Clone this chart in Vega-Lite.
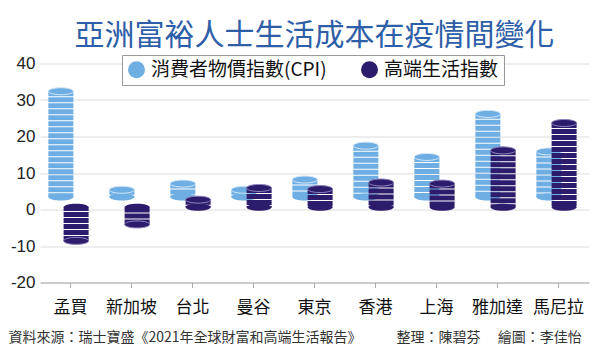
{
  "$schema": "https://vega.github.io/schema/vega-lite/v6.json",
  "width": 549,
  "height": 219,
  "autosize": {"type": "none"},
  "padding": {"left": 40, "top": 63.5, "right": 11, "bottom": 72.5},
  "background": "white",
  "config": {
    "font": "Noto Sans CJK TC",
    "view": {"stroke": null},
    "axisY": {"grid": true, "gridColor": "#dcdcdc", "domain": false, "ticks": false, "labelFontSize": 17, "labelColor": "#222", "labelPadding": 5, "labelFont": "Liberation Sans", "labelOverlap": false}
  },
  "title": {"text": "亞洲富裕人士生活成本在疫情間變化", "fontSize": 30, "color": "#2e5ea8", "fontWeight": "normal", "anchor": "middle", "offset": 4},
  "data": {"values": [
    {"city": "孟買", "series": "消費者物價指數(CPI)", "value": 32.4},
    {"city": "新加坡", "series": "消費者物價指數(CPI)", "value": 5.4},
    {"city": "台北", "series": "消費者物價指數(CPI)", "value": 7.1},
    {"city": "曼谷", "series": "消費者物價指數(CPI)", "value": 5.4},
    {"city": "東京", "series": "消費者物價指數(CPI)", "value": 8.2},
    {"city": "香港", "series": "消費者物價指數(CPI)", "value": 17.5},
    {"city": "上海", "series": "消費者物價指數(CPI)", "value": 14.4},
    {"city": "雅加達", "series": "消費者物價指數(CPI)", "value": 26.2},
    {"city": "馬尼拉", "series": "消費者物價指數(CPI)", "value": 15.9},
    {"city": "孟買", "series": "高端生活指數", "value": -8.6},
    {"city": "新加坡", "series": "高端生活指數", "value": -4.1},
    {"city": "台北", "series": "高端生活指數", "value": 2.7},
    {"city": "曼谷", "series": "高端生活指數", "value": 5.9},
    {"city": "東京", "series": "高端生活指數", "value": 5.6},
    {"city": "香港", "series": "高端生活指數", "value": 7.4},
    {"city": "上海", "series": "高端生活指數", "value": 7.1},
    {"city": "雅加達", "series": "高端生活指數", "value": 16.2},
    {"city": "馬尼拉", "series": "高端生活指數", "value": 23.7}
  ]},
  "encoding": {
    "x": {
      "field": "city", "type": "nominal",
      "sort": ["孟買", "新加坡", "台北", "曼谷", "東京", "香港", "上海", "雅加達", "馬尼拉"],
      "scale": {"paddingInner": 0, "paddingOuter": 0},
      "axis": {
        "title": "資料來源：瑞士寶盛《2021年全球財富和高端生活報告》　　　整理：陳碧芬　   繪圖：李佳怡",
        "titleFontSize": 14, "titleFontWeight": "normal", "titleColor": "#333",
        "titleAnchor": "start", "titleAlign": "left", "titleX": -32, "titleY": 55, "titleBaseline": "middle",
        "labelAngle": 0, "labelFontSize": 17, "labelColor": "#111", "labelPadding": 12,
        "tickColor": "#aaa", "tickSize": 5, "domainColor": "#aaa", "grid": false
      }
    },
    "xOffset": {
      "field": "series", "type": "nominal",
      "sort": ["消費者物價指數(CPI)", "高端生活指數"],
      "scale": {"paddingInner": 0, "paddingOuter": 1.346, "align": 0.434}
    },
    "y": {
      "field": "value", "type": "quantitative",
      "scale": {"domain": [-20, 40], "nice": false},
      "axis": {"values": [-20, -10, 0, 10, 20, 30, 40], "labelExpr": "datum.value", "title": null, "grid": true}
    }
  },
  "layer": [
    {
      "transform": [{"filter": "datum.series === '消費者物價指數(CPI)'"}],
      "mark": {"type": "point", "shape": "M -1 0 A 1 0.28 0 1 0 1 0 A 1 0.28 0 1 0 -1 0 Z", "size": 625, "filled": true, "opacity": 1, "color": "#6eaee3"},
      "encoding": {
        "y": {"datum": 3.4, "type": "quantitative"}
      }
    },
    {
      "transform": [{"filter": "datum.series === '消費者物價指數(CPI)'"}],
      "mark": {"type": "rule", "strokeWidth": 25, "strokeDash": [5, 1], "color": "#6eaee3"},
      "encoding": {
        "y2": {"datum": 3.4}
      }
    },
    {
      "transform": [{"filter": "datum.series === '消費者物價指數(CPI)'"}],
      "mark": {"type": "point", "shape": "M -1 0 A 1 0.28 0 1 0 1 0 A 1 0.28 0 1 0 -1 0 Z", "size": 625, "filled": true, "opacity": 1, "stroke": "#d6e8f8", "strokeWidth": 1},
      "encoding": {
        "color": {
          "field": "series", "type": "nominal",
          "scale": {"domain": ["消費者物價指數(CPI)", "高端生活指數"], "range": ["#6eaee3", "#2d1b6b"]},
          "legend": {
            "orient": "none", "legendX": 82, "legendY": -8.5, "direction": "horizontal", "title": null,
            "symbolType": "circle", "symbolSize": 289, "symbolStrokeWidth": 0, "symbolOpacity": 1,
            "labelFontSize": 19, "labelColor": "#111", "labelOffset": 5, "columnPadding": 33, "labelLimit": 400,
            "padding": 5, "strokeColor": "#999", "fillColor": "white", "labelFont": "Noto Sans CJK TC"
          }
        }
      }
    },
    {
      "transform": [{"filter": "datum.series === '高端生活指數'"}],
      "mark": {"type": "point", "shape": "M -1 0 A 1 0.28 0 1 0 1 0 A 1 0.28 0 1 0 -1 0 Z", "size": 625, "filled": true, "opacity": 1, "color": "#2d1b6b"},
      "encoding": {
        "y": {"datum": 0.6, "type": "quantitative"}
      }
    },
    {
      "transform": [{"filter": "datum.series === '高端生活指數'"}],
      "mark": {"type": "rule", "strokeWidth": 25, "strokeDash": [5, 1], "color": "#2d1b6b"},
      "encoding": {
        "y2": {"datum": 0.6}
      }
    },
    {
      "transform": [{"filter": "datum.series === '高端生活指數'"}],
      "mark": {"type": "point", "shape": "M -1 0 A 1 0.28 0 1 0 1 0 A 1 0.28 0 1 0 -1 0 Z", "size": 625, "filled": true, "opacity": 1, "stroke": "#8f86c0", "strokeWidth": 1},
      "encoding": {
        "color": {"field": "series", "type": "nominal"}
      }
    },
    {
      "data": {"values": [{"note": "單位：%"}]},
      "mark": {"type": "text", "align": "right", "baseline": "middle", "fontSize": 17, "color": "#222", "dx": 24},
      "encoding": {
        "x": {"datum": "馬尼拉", "type": "nominal"},
        "xOffset": {"value": 0},
        "y": {"datum": -15.5, "type": "quantitative"},
        "text": {"field": "note"}
      }
    }
  ]
}
